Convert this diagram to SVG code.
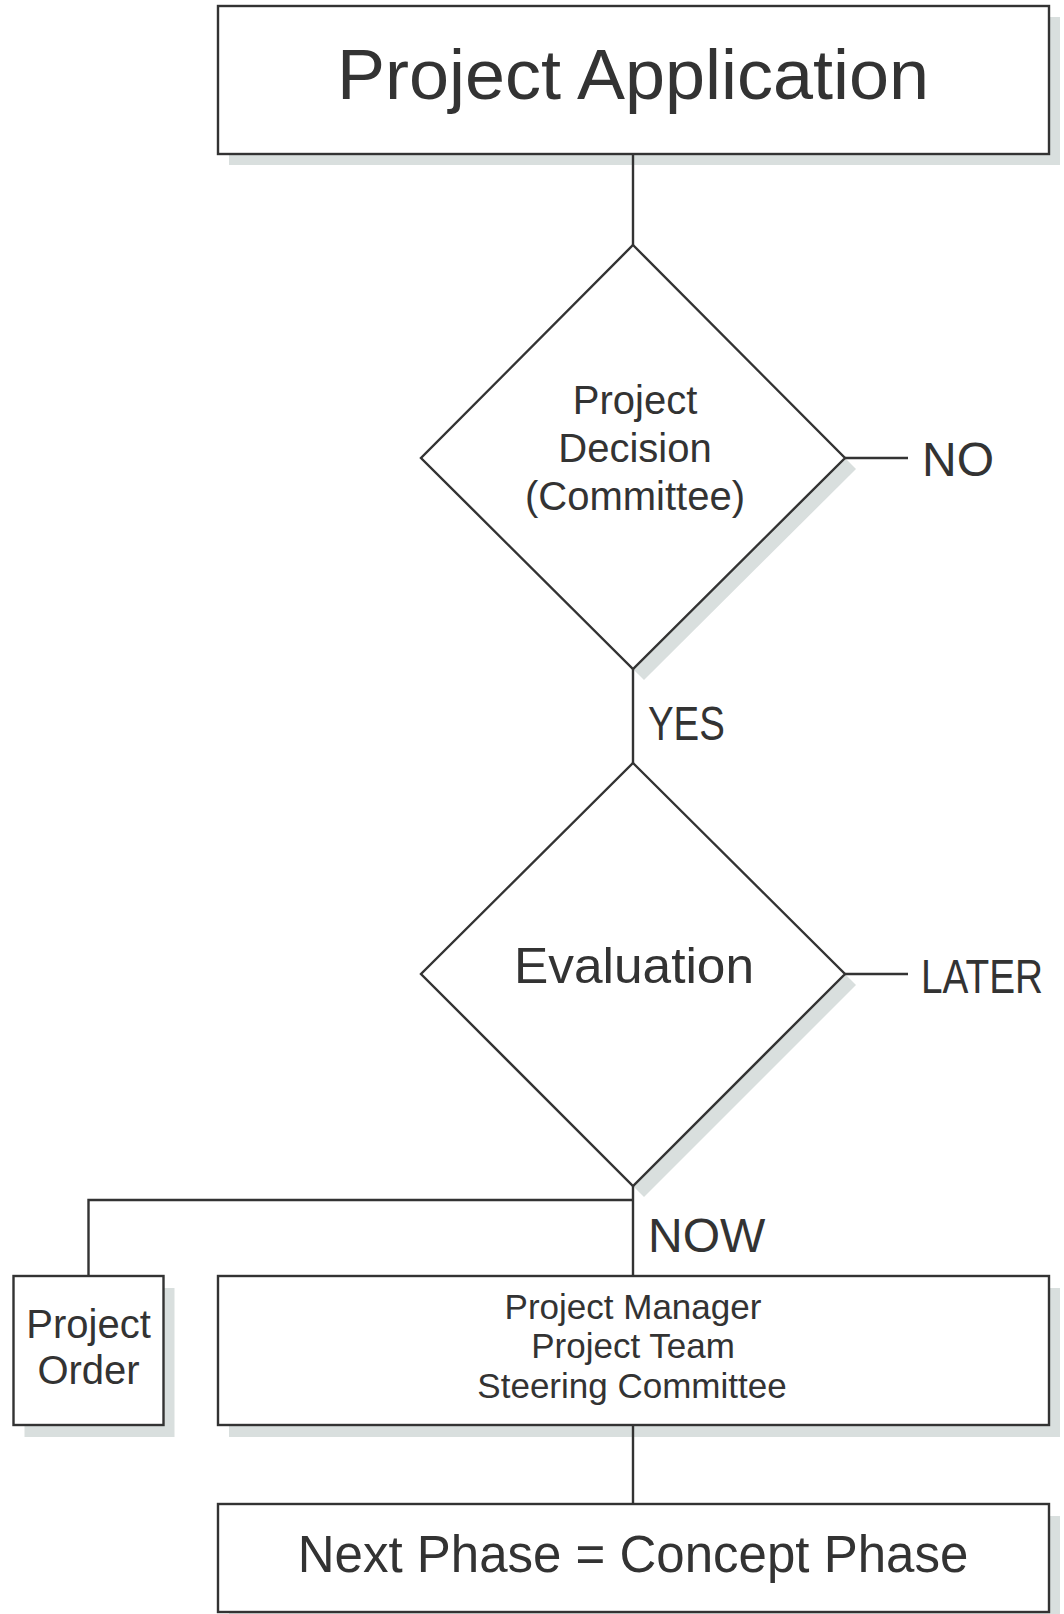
<svg xmlns="http://www.w3.org/2000/svg" width="1064" height="1614" viewBox="0 0 1064 1614">
  <style>
    .shape { fill: #ffffff; stroke: #333333; stroke-width: 2.4; }
    .shadow { fill: #d9dfde; stroke: none; }
    .wire { fill: none; stroke: #333333; stroke-width: 2.4; }
    text { font-family: "Liberation Sans", Arial, sans-serif; fill: #333333; text-anchor: middle; }
    .label { text-anchor: start; font-size: 48px; }
  </style>
  <rect width="1064" height="1614" fill="#ffffff"/>

  <!-- Start node -->
  <g id="project-application">
    <rect class="shadow" x="229" y="17" width="831" height="148"/>
    <rect class="shape" x="218" y="6" width="831" height="148"/>
    <text x="633" y="99" font-size="70" textLength="592" lengthAdjust="spacingAndGlyphs">Project Application</text>
  </g>

  <!-- First decision -->
  <g id="project-decision">
    <polygon class="shadow" points="644,256 856,469 644,680 432,469"/>
    <polygon class="shape" points="633,245 845,458 633,669 421,458"/>
    <text x="635" y="414" font-size="40">Project</text>
    <text x="635" y="462" font-size="40">Decision</text>
    <text x="635" y="510" font-size="40">(Committee)</text>
  </g>

  <!-- Second decision -->
  <g id="evaluation">
    <polygon class="shadow" points="644,774 856,985 644,1197 432,985"/>
    <polygon class="shape" points="633,763 845,974 633,1186 421,974"/>
    <text x="634" y="983" font-size="50" textLength="240" lengthAdjust="spacingAndGlyphs">Evaluation</text>
  </g>

  <!-- Side output -->
  <g id="project-order">
    <rect class="shadow" x="24.5" y="1288" width="150" height="149"/>
    <rect class="shape" x="13.5" y="1276" width="150" height="149"/>
    <text x="88.5" y="1338" font-size="40">Project</text>
    <text x="88.5" y="1384" font-size="40">Order</text>
  </g>

  <!-- Roles -->
  <g id="project-roles">
    <rect class="shadow" x="229" y="1288" width="831" height="149"/>
    <rect class="shape" x="218" y="1276" width="831" height="149"/>
    <text x="633" y="1319" font-size="35">Project Manager</text>
    <text x="633" y="1358" font-size="35">Project Team</text>
    <text x="632" y="1398" font-size="35">Steering Committee</text>
  </g>

  <!-- End node -->
  <g id="next-phase">
    <rect class="shadow" x="229" y="1516" width="831" height="108"/>
    <rect class="shape" x="218" y="1504" width="831" height="108"/>
    <text x="633" y="1572" font-size="51">Next Phase = Concept Phase</text>
  </g>

  <!-- Connectors and their labels (narrow labels are squeezed horizontally) -->
  <g id="connectors">
    <line class="wire" x1="633" y1="154" x2="633" y2="245"/>
    <line class="wire" x1="845" y1="458" x2="908" y2="458"/>
    <line class="wire" x1="633" y1="669" x2="633" y2="763"/>
    <line class="wire" x1="845" y1="974" x2="908" y2="974"/>
    <line class="wire" x1="633" y1="1186" x2="633" y2="1276"/>
    <polyline class="wire" points="633,1200 88.5,1200 88.5,1276"/>
    <line class="wire" x1="633" y1="1425" x2="633" y2="1504"/>
    <text class="label" x="922" y="476">NO</text>
    <text class="label" transform="translate(648,740) scale(0.8,1)">YES</text>
    <text class="label" transform="translate(921,993) scale(0.808,1)">LATER</text>
    <text class="label" x="648" y="1252">NOW</text>
  </g>
</svg>
